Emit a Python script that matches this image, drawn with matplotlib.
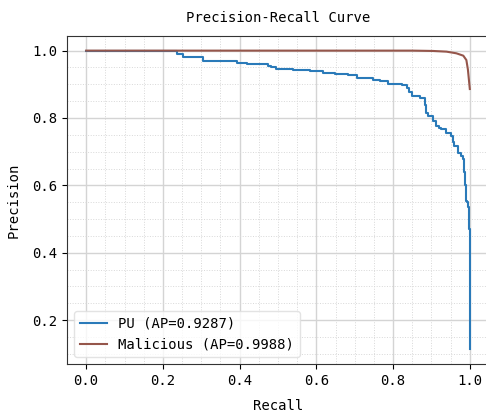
import matplotlib
matplotlib.use("Agg")
import matplotlib.pyplot as plt
from matplotlib.ticker import AutoMinorLocator

plt.rcParams['font.family'] = ['DejaVu Sans Mono', 'DejaVu Sans']
plt.rcParams['font.size'] = 10

# PU curve: (recall, precision) at the start of each horizontal step
pu_recall = [0.0, 0.236, 0.253, 0.305, 0.392, 0.418, 0.449, 0.475, 0.482, 0.495,
             0.540, 0.583, 0.618, 0.648, 0.683, 0.705, 0.748, 0.765, 0.779, 0.787,
             0.822, 0.835, 0.842, 0.848, 0.870, 0.883, 0.887, 0.891, 0.905, 0.913,
             0.920, 0.926, 0.939, 0.952, 0.955, 0.959, 0.970, 0.978, 0.981, 0.984,
             0.987, 0.990, 0.993, 0.996, 0.998, 1.0]
pu_precision = [1.0, 0.990, 0.980, 0.968, 0.964, 0.961, 0.959, 0.955, 0.950, 0.944,
                0.942, 0.939, 0.934, 0.931, 0.927, 0.919, 0.914, 0.911, 0.909, 0.901,
                0.899, 0.889, 0.878, 0.865, 0.860, 0.838, 0.815, 0.805, 0.790, 0.776,
                0.771, 0.766, 0.756, 0.746, 0.730, 0.716, 0.697, 0.687, 0.677, 0.639,
                0.600, 0.553, 0.550, 0.535, 0.470, 0.114]

mal_recall = [0.0, 0.85, 0.904, 0.939, 0.965, 0.983, 0.991, 0.995, 1.0]
mal_precision = [1.0, 1.0, 0.999, 0.997, 0.992, 0.985, 0.972, 0.944, 0.886]

pu_label = "PU (AP=0.9287)"
mal_label = "Malicious (AP=0.9988)"

fig = plt.figure(figsize=(4.86, 4.17), dpi=100)
ax = fig.add_axes([67/486, 1-364/417, (489-67)/486, (364-35.7)/417])

ax.plot(pu_recall, pu_precision, drawstyle='steps-post', color='#2a7ab9',
        lw=1.5, label=pu_label)
ax.plot(mal_recall, mal_precision, color='#95564b', lw=1.5, label=mal_label)

ax.xaxis.set_minor_locator(AutoMinorLocator())
ax.yaxis.set_minor_locator(AutoMinorLocator())
ax.grid(which='major', color='#d4d4d4', lw=1.0)
ax.grid(which='minor', color='#d8d8d8', lw=0.7, ls=':')
ax.set_axisbelow(True)
ax.tick_params(which='minor', length=0)
for s in ax.spines.values():
    s.set_color('#333333')

ax.set_title("Precision-Recall Curve", fontsize=10, pad=10)
ax.set_xlabel("Recall", labelpad=8)
ax.set_ylabel("Precision", labelpad=8)
ax.legend(loc='lower left', fontsize=10, framealpha=0.8, edgecolor='#dddddd')

fig.savefig("out.png", dpi=100)
